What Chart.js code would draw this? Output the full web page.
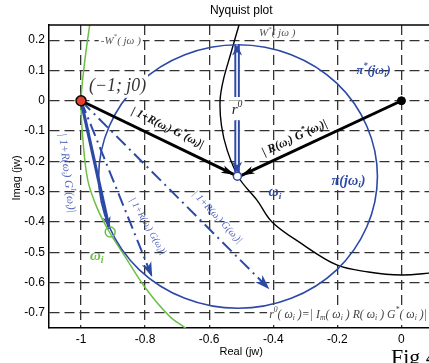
<!DOCTYPE html>
<html>
<head>
<meta charset="utf-8">
<script src="https://cdn.jsdelivr.net/npm/chart.js@4.4.0/dist/chart.umd.min.js"></script>
<style>
  html, body { margin: 0; padding: 0; background: #fff; overflow: hidden; }
  #wrap { width: 429px; height: 363px; overflow: hidden; }
</style>
</head>
<body>
<div id="wrap"><canvas id="nyquist" width="440" height="363"></canvas></div>
<script>
const xTicks = [-1, -0.8, -0.6, -0.4, -0.2, 0];
const yTicks = [0.2, 0.1, 0, -0.1, -0.2, -0.3, -0.4, -0.5, -0.6, -0.7];

// green hodograph -W*(jw)
const greenX = [-0.968, -0.973, -0.988, -1.0, -0.994, -0.979, -0.951, -0.911, -0.864, -0.799, -0.724, -0.671, -0.662];
const greenY = [0.28, 0.25, 0.134, 0, -0.13, -0.262, -0.351, -0.434, -0.512, -0.618, -0.711, -0.753, -0.765];

// black hodograph W*(jw)
const blackX = [-0.498, -0.507, -0.534, -0.556, -0.566, -0.562, -0.544, -0.507, -0.451, -0.404, -0.32, -0.202, -0.103, 0, 0.1];
const blackY = [0.28, 0.25, 0.151, 0.068, 0.002, -0.08, -0.163, -0.255, -0.328, -0.4, -0.466, -0.542, -0.565, -0.575, -0.568];

// blue circle pi(jw_i); first and last points only shape the seam
const circleX = [-0.108, -0.075, -0.108, -0.202, -0.344, -0.51, -0.676, -0.818, -0.912, -0.945, -0.912, -0.818, -0.676, -0.51, -0.344, -0.202, -0.108, -0.075, -0.108];
const circleY = [-0.416, -0.25, -0.084, 0.058, 0.152, 0.185, 0.152, 0.058, -0.084, -0.25, -0.416, -0.558, -0.652, -0.685, -0.652, -0.558, -0.416, -0.25, -0.084];

const criticalPoint = [-1, 0];
const originPoint = [0, 0];
const circleCenter = [-0.512, -0.249];
const greenMark = [-0.909, -0.433];

// vectors
const vecCritX = [-1, -0.522];
const vecCritY = [0, -0.244];
const vecOrigX = [0, -0.499];
const vecOrigY = [0, -0.246];
const vecGreenX = [-1, -0.912];
const vecGreenY = [0, -0.422];
const dashShortX = [-1, -0.778];
const dashShortY = [0, -0.582];
const dashLongX = [-1, -0.412];
const dashLongY = [0, -0.622];
const rUpX = [-0.513, -0.513];
const rUpY = [0.012, 0.186];
const rDownX = [-0.513, -0.513];
const rDownY = [-0.064, -0.238];

const BLUE = '#2c49a6';
const LBLUE = '#5467bf';
const GREEN = '#6cbf45';

const pts = (xs, ys) => xs.map((x, i) => ({x, y: ys[i]}));

let line = (xs, ys, color, width, extra) => Object.assign({
  data: pts(xs, ys), showLine: true, borderColor: color, borderWidth: width,
  pointRadius: 0, tension: 0, fill: false, order: 2
}, extra);

let marker = (p, radius, fill, stroke, width) => ({
  data: [{x: p[0], y: p[1]}], showLine: false, pointRadius: radius,
  backgroundColor: fill, borderColor: stroke, borderWidth: width, order: 0
});

const lastCircle = circleX.length - 1;

const datasets = [
  marker(criticalPoint, 5, '#e8402a', '#000', 1.5),
  marker(originPoint, 4, '#000', '#000', 1),
  marker(circleCenter, 4, '#fff', BLUE, 1.5),
  marker(greenMark, 5, 'rgba(255,255,255,0)', GREEN, 1.5),
  line(vecCritX, vecCritY, '#000', 3, {order: 1, arrowHead: {len: 13, half: 4, color: '#000'}}),
  line(vecOrigX, vecOrigY, '#000', 3, {order: 1, arrowHead: {len: 13, half: 4, color: '#000'}}),
  line(vecGreenX, vecGreenY, BLUE, 3.2, {order: 1, arrowHead: {len: 12, half: 4, color: BLUE}}),
  line(dashShortX, dashShortY, BLUE, 2, {order: 1, borderDash: [13, 5, 2, 5], arrowHead: {len: 15, half: 5, color: BLUE}}),
  line(dashLongX, dashLongY, BLUE, 2, {order: 1, borderDash: [13, 5, 2, 5], arrowHead: {len: 15, half: 5, color: BLUE}}),
  line(rUpX, rUpY, '#fff', 1.6, {order: 1}),
  line(rUpX, rUpY, BLUE, 5.5, {order: 1.5, arrowHead: {len: 11, half: 5, color: BLUE}}),
  line(rDownX, rDownY, '#fff', 1.6, {order: 1}),
  line(rDownX, rDownY, BLUE, 5.5, {order: 1.5, arrowHead: {len: 11, half: 5, color: BLUE}}),
  line(circleX, circleY, BLUE, 1.6, {tension: 0.35, segment: {
    borderColor: ctx => (ctx.p0DataIndex === 0 || ctx.p1DataIndex === lastCircle) ? 'rgba(0,0,0,0)' : BLUE
  }}),
  line(blackX, blackY, '#000', 1.4, {tension: 0.35}),
  line(greenX, greenY, GREEN, 1.5, {tension: 0.35})
];

// text placed in data units
const notes = [
  {text: '(−1; j0)', x: -0.886, y: 0.048, size: 16, width: 57, color: '#333', bg: true},
  {text: '-W^{*}( jω )', x: -0.876, y: 0.198, size: 11, color: '#555', bg: true},
  {text: 'W^{*}( jω )', x: -0.388, y: 0.222, size: 11, color: '#555'},
  {text: 'r^{0}', x: -0.513, y: -0.031, size: 15, color: '#222', bg: true},
  {text: '| 1+R(ω_{i}) G^{*}(ω_{i})|', x: -0.73, y: -0.09, rot: 26, size: 9, width: 79, color: '#111', weight: 'bold'},
  {text: '| R(ω_{i}) G^{*}(ω_{i})|', x: -0.333, y: -0.123, rot: -25, size: 9, width: 70, color: '#111', weight: 'bold'},
  {text: 'π^{*}(jω_{i})', x: -0.087, y: 0.098, size: 10, width: 34, color: BLUE, weight: 'bold'},
  {text: 'π(jω_{i})', x: -0.165, y: -0.265, size: 10, width: 34, color: BLUE, weight: 'bold'},
  {text: 'ω_{i}', x: -0.395, y: -0.302, size: 14, color: BLUE, weight: 'bold'},
  {text: 'ω_{i}', x: -0.951, y: -0.513, size: 15, color: GREEN, weight: 'bold'},
  {text: '| 1+R(ω_{i}) G^{1}(ω_{i})|', x: -1.044, y: -0.239, rot: 83, size: 9, width: 80, color: LBLUE},
  {text: '| 1+R(ω_{i}) G(ω_{i})|', x: -0.792, y: -0.414, rot: 60, size: 9, width: 64, color: LBLUE},
  {text: '| 1+R(ω_{i}) G(ω_{i})|', x: -0.575, y: -0.384, rot: 47, size: 9, width: 68, color: LBLUE},
  {text: 'r^{0}( ω_{i} )=| I_{m}( ω_{i} ) R( ω_{i} ) G^{*}( ω_{i} )|', x: -0.413, y: -0.707, size: 11, width: 158, align: 'left', color: '#444', bg: true}
];

const serif = '"Liberation Serif", "DejaVu Serif", serif';
const sans = '"Liberation Sans", Arial, sans-serif';

function drawRich(ctx, note, px, py) {
  const parts = note.text.split(/(_\{[^}]*\}|\^\{[^}]*\})/).filter(s => s.length);
  let size = note.size;
  const fontAt = s => `italic ${note.weight || 'normal'} ${s}px ${serif}`;
  const build = base => parts.map(p => {
    if (p.startsWith('_{')) return {t: p.slice(2, -1), s: base * 0.65, dy: base * 0.28};
    if (p.startsWith('^{')) return {t: p.slice(2, -1), s: base * 0.65, dy: -base * 0.38};
    return {t: p, s: base, dy: 0};
  });
  const measure = pieces => pieces.reduce((w, p) => {
    ctx.font = fontAt(p.s);
    p.w = ctx.measureText(p.t).width;
    return w + p.w;
  }, 0);
  let pieces = build(size);
  let w = measure(pieces);
  if (note.width) {
    size = size * note.width / w;
    pieces = build(size);
    w = measure(pieces);
  }
  ctx.save();
  ctx.translate(px, py);
  ctx.rotate((note.rot || 0) * Math.PI / 180);
  let cx = note.align === 'left' ? 0 : -w / 2;
  if (note.bg) {
    ctx.fillStyle = '#fff';
    ctx.fillRect(cx - 2, -size * 0.65, w + 4, size * 1.3);
  }
  ctx.fillStyle = note.color;
  ctx.textBaseline = 'middle';
  ctx.textAlign = 'left';
  pieces.forEach(p => {
    ctx.font = fontAt(p.s);
    ctx.fillText(p.t, cx, p.dy);
    cx += p.w;
  });
  ctx.restore();
}

const decorations = {
  id: 'decorations',
  afterDatasetsDraw(chart) {
    const {ctx, chartArea, scales} = chart;
    ctx.save();
    // arrow heads at the end of marked vectors
    chart.data.datasets.forEach((ds, i) => {
      if (!ds.arrowHead) return;
      const meta = chart.getDatasetMeta(i);
      const n = meta.data.length;
      const p1 = meta.data[n - 2], p2 = meta.data[n - 1];
      const a = Math.atan2(p2.y - p1.y, p2.x - p1.x);
      const {len, half, color} = ds.arrowHead;
      ctx.save();
      ctx.translate(p2.x, p2.y);
      ctx.rotate(a);
      ctx.fillStyle = color;
      ctx.beginPath();
      ctx.moveTo(0, 0);
      ctx.lineTo(-len, -half);
      ctx.lineTo(-len * 0.72, 0);
      ctx.lineTo(-len, half);
      ctx.closePath();
      ctx.fill();
      ctx.restore();
    });

    // top frame line
    ctx.strokeStyle = '#000';
    ctx.lineWidth = 1.5;
    ctx.beginPath();
    ctx.moveTo(chartArea.left, chartArea.top);
    ctx.lineTo(chartArea.right, chartArea.top);
    ctx.stroke();

    notes.forEach(n => drawRich(ctx, n, scales.x.getPixelForValue(n.x), scales.y.getPixelForValue(n.y)));

    const midX = (chartArea.left + chartArea.right) / 2;
    ctx.fillStyle = '#000';
    ctx.textAlign = 'center';
    ctx.textBaseline = 'middle';
    ctx.font = `12px ${sans}`;
    ctx.fillText('Nyquist plot', midX, 11);
    ctx.font = `11px ${sans}`;
    ctx.fillText('Real (jw)', midX, 352);
    ctx.save();
    ctx.translate(17, 178);
    ctx.rotate(-Math.PI / 2);
    ctx.fillText('Imag (jw)', 0, 0);
    ctx.restore();

    ctx.textAlign = 'left';
    ctx.textBaseline = 'alphabetic';
    ctx.font = `22px ${serif}`;
    ctx.fillText('Fig 4', 391, 364);
    ctx.restore();
  }
};

let axis = (min, max, ticks, fit) => ({
  type: 'linear', min, max,
  afterBuildTicks: s => { s.ticks = ticks.map(v => ({value: v})); },
  afterFit: fit,
  grid: {color: '#333', lineWidth: 1.3, drawTicks: false},
  border: {display: true, color: '#000', width: 1.5, dash: [10, 5]},
  ticks: {color: '#000', padding: 4, font: {family: sans, size: 12}, callback: v => String(v)}
});

new Chart(document.querySelector('#nyquist').getContext('2d'), {
  type: 'scatter',
  data: {datasets},
  options: {
    responsive: false,
    animation: false,
    devicePixelRatio: 1,
    layout: {padding: {top: 25, right: 5, left: 0, bottom: 0}},
    plugins: {legend: {display: false}, tooltip: {enabled: false}},
    scales: {
      x: axis(-1.1, 0.1, xTicks, s => { s.height = 35; }),
      y: axis(-0.75, 0.25, yTicks, s => { s.width = 49; })
    }
  },
  plugins: [decorations]
});
</script>
</body>
</html>
